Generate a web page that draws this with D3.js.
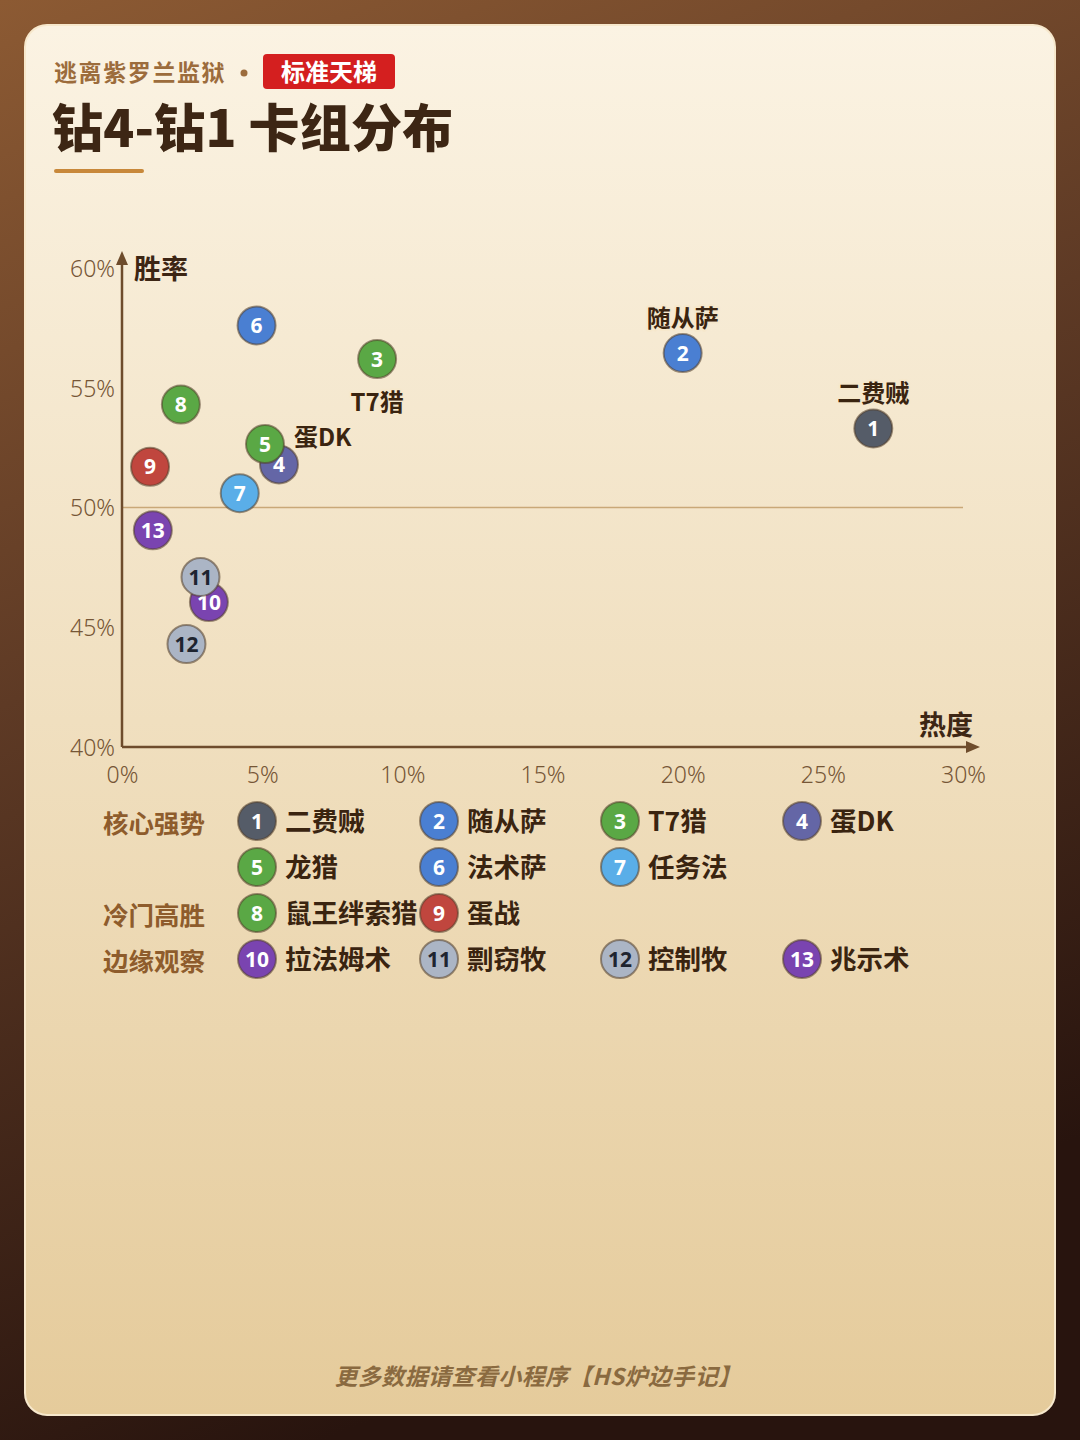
<!DOCTYPE html>
<html>
<head>
<meta charset="utf-8">
<script src="https://cdn.jsdelivr.net/npm/d3@7"></script>
<style>
  body { margin: 0; background: #2a1510; }
  svg { display: block; }
</style>
</head>
<body>
<div class="chart"></div>
<script>
// deck data (热度 %, 胜率 %)
var deckIds = [1, 2, 3, 4, 5, 6, 7, 8, 9, 10, 11, 12, 13];
var deckNames = ['二费贼', '随从萨', 'T7猎', '蛋DK', '龙猎', '法术萨', '任务法', '鼠王绊索猎', '蛋战', '拉法姆术', '剽窃牧', '控制牧', '兆示术'];
var popularity = [26.8, 20.0, 9.1, 5.6, 5.1, 4.8, 4.2, 2.1, 1.0, 3.1, 2.8, 2.3, 1.1];
var winrate = [53.3, 56.45, 56.2, 51.8, 52.65, 57.6, 50.6, 54.3, 51.7, 46.05, 47.1, 44.3, 49.05];
var deckColors = ['#555c68', '#4a7fd2', '#5aa845', '#6466a6', '#5aa845', '#4a7fd2', '#5aaee8', '#5aa845', '#c0463e', '#7a44b0', '#abb5c5', '#abb5c5', '#7a44b0'];
var darkText = [11, 12];

// decks that get a name beside the dot
var labeled = {1: 'top', 2: 'top', 3: 'bottom', 4: 'right5'};

// legend groups
var groupNames = ['核心强势', '冷门高胜', '边缘观察'];
var groupDecks = [[1, 2, 3, 4, 5, 6, 7], [8, 9], [10, 11, 12, 13]];

var xTicks = [0, 5, 10, 15, 20, 25, 30];
var yTicks = [40, 45, 50, 55, 60];

const W = 1080, H = 1440;

var svg = d3.select('.chart')
  .append('svg')
    .attr('width', W)
    .attr('height', H);

var defs = svg.append('defs');
var bg = defs.append('linearGradient').attr('id', 'bg')
  .attr('x1', 0).attr('y1', 0).attr('x2', 0.3).attr('y2', 1);
bg.append('stop').attr('offset', '0%').attr('stop-color', '#8c5a33');
bg.append('stop').attr('offset', '45%').attr('stop-color', '#5e3a25');
bg.append('stop').attr('offset', '100%').attr('stop-color', '#28140e');

var card = defs.append('linearGradient').attr('id', 'card')
  .attr('x1', 0).attr('y1', 0).attr('x2', 0).attr('y2', 1);
card.append('stop').attr('offset', '0%').attr('stop-color', '#fbf3e3');
card.append('stop').attr('offset', '100%').attr('stop-color', '#e5cb9b');

svg.append('rect').attr('width', W).attr('height', H).attr('fill', 'url(#bg)');
svg.append('rect')
  .attr('x', 25).attr('y', 25).attr('width', 1030).attr('height', 1390)
  .attr('rx', 22)
  .attr('fill', 'url(#card)')
  .attr('stroke', '#f7e8cc').attr('stroke-width', 2);

var cjk = '"Noto Sans CJK SC", "Noto Sans", sans-serif';

// header
svg.append('text')
  .attr('x', 54).attr('y', 81)
  .attr('font-family', cjk).attr('font-weight', 700).attr('font-size', 23)
  .attr('letter-spacing', 1.6)
  .attr('fill', '#9c6c3c')
  .text('逃离紫罗兰监狱');
svg.append('circle').attr('cx', 244).attr('cy', 73).attr('r', 3.5).attr('fill', '#9c6c3c');
svg.append('rect')
  .attr('x', 263).attr('y', 54).attr('width', 132).attr('height', 35).attr('rx', 4)
  .attr('fill', '#d41f1f');
svg.append('text')
  .attr('x', 329).attr('y', 81).attr('text-anchor', 'middle')
  .attr('font-family', cjk).attr('font-weight', 700).attr('font-size', 24)
  .attr('fill', '#fff')
  .text('标准天梯');
svg.append('text')
  .attr('x', 52).attr('y', 147)
  .attr('font-family', cjk).attr('font-weight', 900).attr('font-size', 51)
  .attr('letter-spacing', 0.2)
  .attr('fill', '#3d2614')
  .text('钻4-钻1 卡组分布');
svg.append('line')
  .attr('x1', 56).attr('x2', 142).attr('y1', 171).attr('y2', 171)
  .attr('stroke', '#c8883a').attr('stroke-width', 4).attr('stroke-linecap', 'round');

// scales
var xScale = d3.scaleLinear().domain([0, 30]).range([122, 963]);
var yScale = d3.scaleLinear().domain([40, 60]).range([747, 268]);

var axisColor = '#6e4c2c';
var tickColor = '#765636';

// 50% reference line
svg.append('line')
  .attr('x1', xScale(0)).attr('x2', xScale(30))
  .attr('y1', yScale(50)).attr('y2', yScale(50))
  .attr('stroke', '#c9a878').attr('stroke-width', 1.5);

// axes
var xAxis = svg.append('g')
  .attr('transform', `translate(0, ${yScale(40)})`)
  .call(d3.axisBottom(xScale).tickValues(xTicks).tickSize(0).tickPadding(20).tickFormat(d => d + '%'));
var yAxis = svg.append('g')
  .attr('transform', `translate(${xScale(0)}, 0)`)
  .call(d3.axisLeft(yScale).tickValues(yTicks).tickSize(0).tickPadding(7).tickFormat(d => d + '%'));
[xAxis, yAxis].forEach(function (ax) {
  ax.select('.domain').remove();
  ax.selectAll('text')
    .attr('font-family', '"Noto Sans", "Open Sans", sans-serif')
    .attr('font-weight', 300)
    .attr('font-size', 23)
    .attr('fill', tickColor);
});
yAxis.selectAll('text').attr('dy', '0.36em');

svg.append('line')
  .attr('x1', xScale(0)).attr('x2', 970)
  .attr('y1', yScale(40)).attr('y2', yScale(40))
  .attr('stroke', axisColor).attr('stroke-width', 2.5);
svg.append('path')
  .attr('d', `M980,${yScale(40)} L966,${yScale(40) - 6} L966,${yScale(40) + 6} Z`)
  .attr('fill', axisColor);
svg.append('line')
  .attr('x1', xScale(0)).attr('x2', xScale(0))
  .attr('y1', yScale(40)).attr('y2', 262)
  .attr('stroke', axisColor).attr('stroke-width', 2.5);
svg.append('path')
  .attr('d', `M${xScale(0)},251 L${xScale(0) - 6},265 L${xScale(0) + 6},265 Z`)
  .attr('fill', axisColor);

svg.append('text')
  .attr('x', 134).attr('y', 279)
  .attr('font-family', cjk).attr('font-weight', 700).attr('font-size', 27)
  .attr('fill', '#3d2614')
  .text('胜率');
svg.append('text')
  .attr('x', 973).attr('y', 735).attr('text-anchor', 'end')
  .attr('font-family', cjk).attr('font-weight', 700).attr('font-size', 27)
  .attr('fill', '#3d2614')
  .text('热度');

var decks = deckIds.map((id, i) => ({
  id: id, name: deckNames[i], x: popularity[i], y: winrate[i], color: deckColors[i]
}));

function badge(g, d, r, size) {
  g.append('circle')
    .attr('r', r)
    .attr('fill', d.color)
    .attr('stroke', 'rgba(80,60,40,0.55)')
    .attr('stroke-width', 2);
  g.append('text')
    .attr('text-anchor', 'middle')
    .attr('dy', '0.36em')
    .attr('font-family', '"Noto Sans", "Open Sans", sans-serif')
    .attr('font-weight', 700)
    .attr('font-size', size)
    .attr('fill', darkText.includes(d.id) ? '#1e2430' : '#ffffff')
    .text(d.id);
}

// points: 5 sits over 4, 11 over 10
var drawOrder = decks.slice();
drawOrder.sort((a, b) => {
  var rank = {4: 0, 5: 1, 10: 0, 11: 1};
  return (rank[a.id] || 0) - (rank[b.id] || 0);
});

var pts = svg.selectAll('g.pt')
  .data(drawOrder)
  .enter()
  .append('g')
    .attr('class', 'pt')
    .attr('transform', d => `translate(${xScale(d.x)}, ${yScale(d.y)})`);
pts.each(function (d) { badge(d3.select(this), d, 19, 21); });

// point labels
var labelData = decks.filter(d => labeled[d.id]);
svg.selectAll('text.lbl')
  .data(labelData)
  .enter()
  .append('text')
    .attr('class', 'lbl')
    .attr('x', d => {
      if (labeled[d.id] === 'right5') return xScale(decks[4].x) + 29;
      return xScale(d.x);
    })
    .attr('y', d => {
      if (labeled[d.id] === 'top') return yScale(d.y) - 26;
      if (labeled[d.id] === 'bottom') return yScale(d.y) + 52;
      return yScale(decks[4].y) + 2;
    })
    .attr('text-anchor', d => labeled[d.id] === 'right5' ? 'start' : 'middle')
    .attr('font-family', cjk).attr('font-weight', 700).attr('font-size', 24)
    .attr('fill', '#3a2410')
    .attr('stroke', '#f6e8cc').attr('stroke-width', 4).attr('paint-order', 'stroke')
    .attr('stroke-linejoin', 'round')
    .text(d => d.name);

// legend
var colX = [257, 439, 620, 802];
var rowY = 821, rowStep = 46;
var row = 0;
groupNames.forEach(function (gname, gi) {
  svg.append('text')
    .attr('x', 103).attr('y', rowY + row * rowStep + 12)
    .attr('font-family', cjk).attr('font-weight', 700).attr('font-size', 25.5)
    .attr('fill', '#8e5c2c')
    .text(gname);
  groupDecks[gi].forEach(function (id, k) {
    var d = decks[id - 1];
    var r = row + Math.floor(k / 4);
    var g = svg.append('g')
      .attr('transform', `translate(${colX[k % 4]}, ${rowY + r * rowStep})`);
    badge(g, d, 19, 21);
    g.append('text')
      .attr('x', 28).attr('dy', '0.36em')
      .attr('font-family', cjk).attr('font-weight', 700).attr('font-size', 26.5)
      .attr('fill', '#3a2410')
      .text(d.name);
  });
  row += Math.ceil(groupDecks[gi].length / 4);
});

// footer
svg.append('text')
  .attr('x', 538).attr('y', 1385).attr('text-anchor', 'middle')
  .attr('font-family', cjk).attr('font-weight', 700).attr('font-size', 23)
  .attr('font-style', 'italic')
  .attr('letter-spacing', 0.4)
  .attr('fill', '#8a6a40')
  .text('更多数据请查看小程序【HS炉边手记】');
</script>
</body>
</html>
